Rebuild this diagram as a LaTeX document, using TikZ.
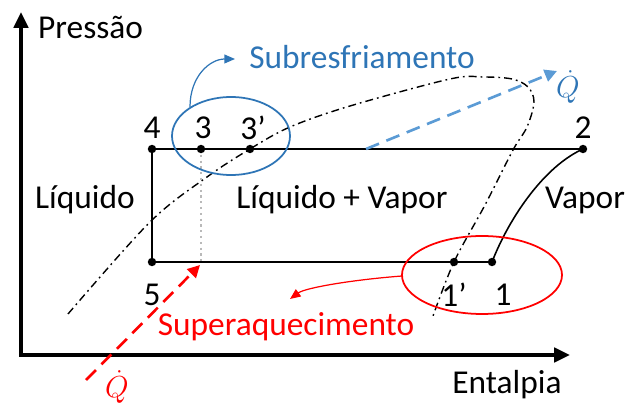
\documentclass[tikz,border=0pt]{standalone}
\usepackage{fontspec}
\setmainfont{Carlito}
\usetikzlibrary{arrows.meta}
\definecolor{azulesc}{RGB}{46,117,182}
\definecolor{azulcla}{RGB}{91,155,213}
\definecolor{vermelho}{RGB}{255,0,0}
\tikzset{
  eixo/.style={line width=2.3pt,{Triangle[length=9pt,width=8pt]}-{Triangle[length=9pt,width=8pt]}},
  ciclo/.style={line width=0.9pt},
  rotulo/.style={font=\fontsize{19}{22}\selectfont},
  calor/.style={line width=1.5pt,dash pattern=on 8pt off 4.5pt,-{Triangle[length=7pt,width=7pt]}},
  saturacao/.style={line width=0.8pt,dash pattern=on 4.5pt off 2.3pt on 1pt off 2.3pt},
  seta/.style={line width=0.7pt,-{Triangle[length=6pt,width=5pt]}},
}
\begin{document}
\begin{tikzpicture}[x=0.02cm,y=0.02cm]
  \useasboundingbox (0,0) rectangle (627,406);
  \coordinate (topo) at (21,394);
  \coordinate (orig) at (21,51);
  \coordinate (fim) at (570,51);
  \draw[eixo] (topo)--(orig)--(fim);
  \node[rotulo,anchor=west] (pressao) at (32,379) {Pressão};
  \node[rotulo] (entalpia) at (507,21) {Entalpia};
  \coordinate (p4) at (152,257);
  \coordinate (p3) at (201,257);
  \coordinate (p3l) at (250,257);
  \coordinate (p2) at (583,257);
  \coordinate (p5) at (152,144);
  \coordinate (p1l) at (454,144);
  \coordinate (p1) at (492,144);
  \coordinate (q3) at (201,144);
  \draw[saturacao] plot[smooth,tension=0.55] coordinates {(68,92) (150,184) (207,229) (250,257) (290,279) (350,300) (450,327) (483,329) (512,327) (528,319) (534,304) (527,279) (513,256) (485,201) (454,144) (433,90)};
  \draw[gray!55,line width=1.3pt,dotted] (p3)--(q3);
  \draw[ciclo] (p1)--(p5)--(p4)--(p2);
  \draw[ciclo] (p1) .. controls (510,190) and (545,240) .. (p2);
  \foreach \p in {p4,p3,p3l,p2,p5,p1l,p1} {\fill (\p) circle (2.4pt);}
  \node[rotulo] (n4) at (152,278) {4};
  \node[rotulo] (n3) at (203,278) {3};
  \node[rotulo] (n3l) at (253,278) {3’};
  \node[rotulo] (n2) at (583,278) {2};
  \node[rotulo] (n5) at (152,111) {5};
  \node[rotulo] (n1l) at (454,111) {1’};
  \node[rotulo] (n1) at (503,111) {1};
  \node[rotulo] (liq) at (85,206) {Líquido};
  \node[rotulo] (mist) at (342,206) {Líquido + Vapor};
  \node[rotulo] (vap) at (585,206) {Vapor};
  \draw[azulesc,line width=1pt] (231,270) ellipse (59 and 39);
  \coordinate (sub0) at (190,299);
  \coordinate (sub1) at (235,347);
  \draw[azulesc,seta] (sub0) .. controls (190,330) and (210,347) .. (sub1);
  \node[rotulo,text=azulesc] (subres) at (362,349) {Subresfriamento};
  \draw[vermelho,line width=1pt] (482,131) ellipse (80 and 39);
  \coordinate (sup0) at (402,130);
  \coordinate (sup1) at (290,107);
  \draw[vermelho,seta] (sup0) .. controls (350,126) and (305,118) .. (sup1);
  \node[rotulo,text=vermelho] (superaq) at (286,79) {Superaquecimento};
  \coordinate (qe0) at (86,26);
  \coordinate (qe1) at (200,141);
  \draw[calor,vermelho] (qe0)--(qe1);
  \node[rotulo,text=vermelho] (qent) at (117,19) {$\dot{Q}$};
  \coordinate (qs0) at (366,257);
  \coordinate (qs1) at (557,335);
  \draw[calor,azulcla] (qs0)--(qs1);
  \node[rotulo,text=azulesc] (qsai) at (568,319) {$\dot{Q}$};
\end{tikzpicture}
\end{document}
